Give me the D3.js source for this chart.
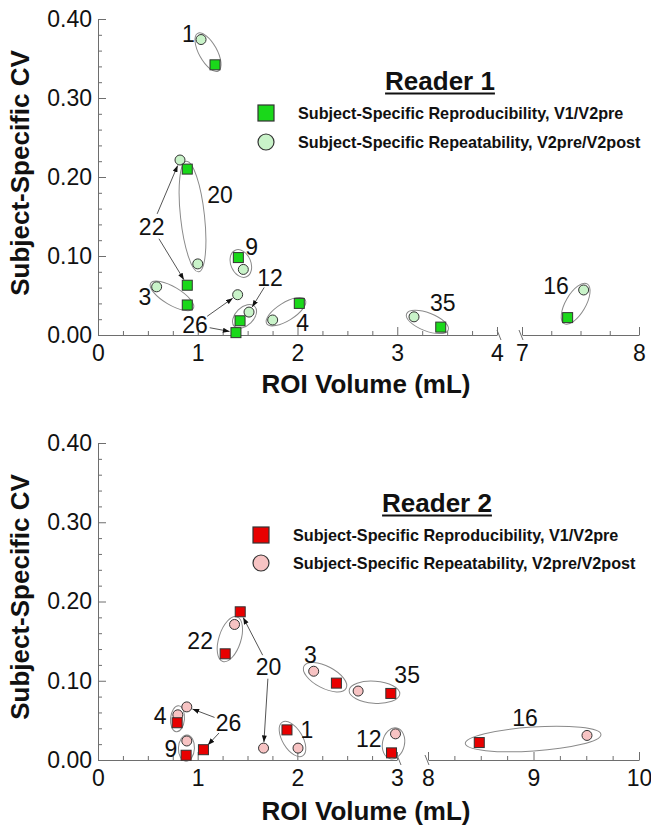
<!DOCTYPE html>
<html><head><meta charset="utf-8">
<script src="https://cdn.jsdelivr.net/npm/d3@7"></script>
<style>
body{margin:0;background:#fff}
text{font-family:"Liberation Sans",Arial,sans-serif}
</style>
</head><body>
<svg id="c" width="651" height="831"></svg>
<script>
// ---------------- DATA ----------------
// Reader 1
const subjects1   = ["1","20","22","3","9","26","12","4","35","16"];
const reproVol1   = [1.173,0.895,0.895,0.895,1.407,1.383,1.424,2.018,3.436,7.39];
const reproCV1    = [0.342,0.210,0.063,0.038,0.098,0.003,0.018,0.040,0.010,0.022];
const repeatVol1  = [1.033,1.000,0.822,0.588,1.457,1.400,1.514,1.751,3.168,7.527];
const repeatCV1   = [0.374,0.090,0.2215,0.061,0.083,0.051,0.029,0.019,0.023,0.057];
// Reader 2
const subjects2   = ["20","22","3","35","4","26","9","1","12","16"];
const reproVol2   = [1.427,1.276,2.392,2.938,0.794,1.058,0.884,1.896,2.945,8.486];
const reproCV2    = [0.187,0.134,0.097,0.084,0.047,0.013,0.006,0.038,0.009,0.022];
const repeatVol2  = [1.661,1.370,2.164,2.610,0.801,0.891,0.891,2.007,2.985,9.507];
const repeatCV2   = [0.015,0.171,0.112,0.087,0.057,0.067,0.024,0.015,0.033,0.031];

// Tick labels
const yTicks     = [0,0.1,0.2,0.3,0.4];
const xTicks1A   = [0,1,2,3,4];
const xTicks1B   = [7,8];
const xTicks2A   = [0,1,2,3];
const xTicks2B   = [8,9,10];
const legendLabels = ["Subject-Specific Reproducibility, V1/V2pre","Subject-Specific Repeatability, V2pre/V2post"];
const titles = ["Reader 1","Reader 2"];

// ---------------- ANNOTATION LAYOUT (data coords for label anchors) ----------------
const labels1 = {"1":[0.905,0.382],"20":[1.223,0.177],"22":[0.538,0.137],"9":[1.541,0.112],"12":[1.724,0.072],
                 "3":[0.471,0.0485],"26":[0.972,0.0127],"4":[2.052,0.015],"35":[3.456,0.041],"16":[7.291,0.062]};
const labels2 = {"22":[1.025,0.150],"20":[1.712,0.1177],"3":[2.131,0.133],"35":[3.102,0.108],"4":[0.623,0.0553],
                 "26":[1.31,0.047],"9":[0.731,0.014],"1":[2.097,0.0385],"12":[2.717,0.027],"16":[8.919,0.053]};
const ell1 = {"1":[7,9],"20":[8,12],"3":[7,9],"9":[8,10],"12":[8,9],"4":[7,9],"35":[8,9],"16":[7,10]};
const ell2 = {"22":[8,11],"3":[11,11],"35":[9,11],"4":[9,7],"9":[6,8],"1":[9,10],"12":[6,11],"16":[14,12]};
const arrows1 = [["22","repeat",14],["22","repro",14],["26","repeat",15],["26","repro",15],["12","repeat",11]];
const arrows2 = [["20","repro",13],["20","repeat",12],["26","repeat",15],["26","repro",14]];

const panels = [
  {subjects:subjects1, reproVol:reproVol1, reproCV:reproCV1, repeatVol:repeatVol1, repeatCV:repeatCV1,
   segA:{domain:[0,4],range:[98,497],ticks:xTicks1A}, segB:{domain:[7,8],range:[522,639],ticks:xTicks1B},
   yRange:[335,19], title:titles[0], titleX:440, titleY:90, legX:266, legY:[113,142], legTextX:298,
   xLabelY:393, yLabelY:173, labels:labels1, ells:ell1, arrows:arrows1,
   sqFill:"#1ad81a", ciFill:"#c9f3c9"},
  {subjects:subjects2, reproVol:reproVol2, reproCV:reproCV2, repeatVol:repeatVol2, repeatCV:repeatCV2,
   segA:{domain:[0,3],range:[98,397],ticks:xTicks2A}, segB:{domain:[8,10],range:[428,639],ticks:xTicks2B},
   yRange:[760,443], title:titles[1], titleX:437, titleY:512, legX:261, legY:[535,563], legTextX:293,
   xLabelY:820, yLabelY:597, labels:labels2, ells:ell2, arrows:arrows2,
   sqFill:"#e80000", ciFill:"#f7c3c3"}
];

const svg = d3.select("#c");
svg.append("rect").attr("width",651).attr("height",831).attr("fill","#fff");
const defs = svg.append("defs");
defs.append("marker").attr("id","ah").attr("viewBox","0 0 8 6").attr("refX",8).attr("refY",3)
  .attr("markerWidth",7).attr("markerHeight",5).attr("orient","auto").attr("markerUnits","userSpaceOnUse")
  .append("path").attr("d","M0,0L8,3L0,6Z").attr("fill","#111");

const AX = "#6e6e6e";

panels.forEach(p => {
  const g = svg.append("g");
  const xa = d3.scaleLinear().domain(p.segA.domain).range(p.segA.range);
  const xb = d3.scaleLinear().domain(p.segB.domain).range(p.segB.range);
  const split = (p.segA.domain[1]+p.segB.domain[0])/2;
  const x = v => v <= split ? xa(v) : xb(v);
  const y = d3.scaleLinear().domain([0,0.4]).range(p.yRange);
  const y0 = y(0);

  // Y axis
  g.append("g").attr("transform",`translate(${xa(0)},0)`)
    .call(d3.axisLeft(y).tickValues(yTicks).tickSizeInner(-8).tickSizeOuter(0).tickPadding(6).tickFormat(d3.format(".2f")));
  const yMinor = d3.range(0,21).map(i=>i*0.02).filter(v=>Math.round(v*100)%10!==0);
  const yAx2 = g.append("g").attr("transform",`translate(${xa(0)},0)`)
    .call(d3.axisLeft(y).tickValues(yMinor).tickSize(-4).tickFormat(""));
  yAx2.select(".domain").remove();

  // X axis segments
  [[xa,p.segA],[xb,p.segB]].forEach(([sc,seg],k) => {
    g.append("g").attr("transform",`translate(0,${y0})`)
      .call(d3.axisBottom(sc).tickValues(seg.ticks).tickSizeInner(-8).tickSizeOuter(0).tickPadding(10).tickFormat(d3.format("d")));
    const minors = [];
    for (let v=seg.domain[0]; v<seg.domain[1]-1e-9; v+=0.25) { if (Math.abs(v-Math.round(v))>1e-9) minors.push(v); }
    const ax2 = g.append("g").attr("transform",`translate(0,${y0})`)
      .call(d3.axisBottom(sc).tickValues(minors).tickSize(-4).tickFormat(""));
    ax2.select(".domain").remove();
    // break mark
    const bx = k===0 ? seg.range[1]+2 : seg.range[0]-1;
    g.append("line").attr("x1",bx-2).attr("y1",y0-5).attr("x2",bx+2).attr("y2",y0+5)
      .attr("stroke",AX).attr("stroke-width",1);
  });

  g.selectAll(".domain").attr("stroke",AX);
  g.selectAll(".tick line").attr("stroke",AX);
  g.selectAll(".tick text").attr("font-size",23).attr("fill","#111").attr("font-family","'Liberation Sans',Arial,sans-serif");

  // axis titles
  g.append("text").attr("x",366).attr("y",p.xLabelY).attr("text-anchor","middle")
    .attr("font-size",26).attr("font-weight","bold").attr("fill","#111").text("ROI Volume (mL)");
  g.append("text").attr("transform",`translate(29,${p.yLabelY}) rotate(-90)`).attr("text-anchor","middle")
    .attr("font-size",26).attr("font-weight","bold").attr("fill","#111").text("Subject-Specific CV");

  // title + legend
  const t = g.append("text").attr("x",p.titleX).attr("y",p.titleY).attr("text-anchor","middle")
    .attr("font-size",26).attr("font-weight","bold").attr("fill","#111").text(p.title);
  const tw = t.node().getComputedTextLength();
  g.append("line").attr("x1",p.titleX-tw/2).attr("x2",p.titleX+tw/2).attr("y1",p.titleY+3.5).attr("y2",p.titleY+3.5)
    .attr("stroke","#111").attr("stroke-width",2);
  g.append("rect").attr("x",p.legX-8).attr("y",p.legY[0]-8).attr("width",16).attr("height",16)
    .attr("fill",p.sqFill).attr("stroke","#333").attr("stroke-width",1.2);
  g.append("circle").attr("cx",p.legX).attr("cy",p.legY[1]).attr("r",8)
    .attr("fill",p.ciFill).attr("stroke","#333").attr("stroke-width",1.2);
  legendLabels.forEach((s,i)=>{
    g.append("text").attr("x",p.legTextX).attr("y",p.legY[i]+5.5).attr("font-size",16.2).attr("font-weight","bold")
      .attr("fill","#111").text(s);
  });

  // points in pixel space
  const pts = {};
  p.subjects.forEach((s,i)=>{
    pts[s] = {repro:[x(p.reproVol[i]),y(p.reproCV[i])], repeat:[x(p.repeatVol[i]),y(p.repeatCV[i])]};
  });

  // ellipses
  Object.entries(p.ells).forEach(([s,[pad,ry]])=>{
    const a = pts[s].repro, b = pts[s].repeat;
    const cx=(a[0]+b[0])/2, cy=(a[1]+b[1])/2;
    const d=Math.hypot(b[0]-a[0],b[1]-a[1]);
    const ang=Math.atan2(b[1]-a[1],b[0]-a[0])*180/Math.PI;
    g.append("ellipse").attr("cx",cx).attr("cy",cy).attr("rx",d/2+pad).attr("ry",ry)
      .attr("transform",`rotate(${ang},${cx},${cy})`).attr("fill","none").attr("stroke","#8a8a8a").attr("stroke-width",1);
  });

  // arrows
  p.arrows.forEach(([s,which,gap])=>{
    const L = p.labels[s];
    const lx=x(L[0]), ly=y(L[1]);
    const tp = pts[s][which];
    const dx=tp[0]-lx, dy=tp[1]-ly, dd=Math.hypot(dx,dy);
    const ux=dx/dd, uy=dy/dd;
    const endGap = which==="repro" ? 6.5 : 6;
    g.append("line").attr("x1",lx+ux*gap).attr("y1",ly+uy*gap).attr("x2",tp[0]-ux*endGap).attr("y2",tp[1]-uy*endGap)
      .attr("stroke","#555").attr("stroke-width",1).attr("marker-end","url(#ah)");
  });

  // labels
  Object.entries(p.labels).forEach(([s,[lv,lc]])=>{
    g.append("text").attr("x",x(lv)).attr("y",y(lc)).attr("dy","0.36em").attr("text-anchor","middle")
      .attr("font-size",23).attr("fill","#111").text(s);
  });

  // markers: circles then squares
  g.selectAll(null).data(p.subjects.map((s,i)=>i)).enter().append("circle")
    .attr("cx",i=>x(p.repeatVol[i])).attr("cy",i=>y(p.repeatCV[i])).attr("r",5)
    .attr("fill",p.ciFill).attr("stroke","#333").attr("stroke-width",1);
  g.selectAll(null).data(p.subjects.map((s,i)=>i)).enter().append("rect")
    .attr("x",i=>x(p.reproVol[i])-5).attr("y",i=>y(p.reproCV[i])-5).attr("width",10).attr("height",10)
    .attr("fill",p.sqFill).attr("stroke","#333").attr("stroke-width",1);
});
</script>
</body></html>
